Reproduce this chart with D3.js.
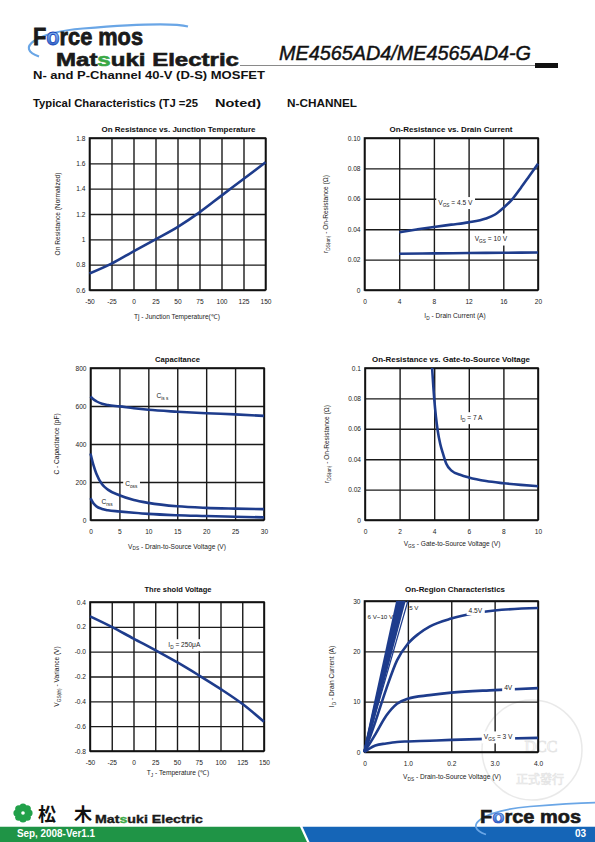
<!DOCTYPE html>
<html><head><meta charset="utf-8">
<script src="https://cdn.jsdelivr.net/npm/d3@7"></script>
<style>html,body{margin:0;padding:0;background:#fff}svg{display:block}</style>
</head><body>
<script>
// ---------- DATA ----------
// Chart 1: On Resistance vs Junction Temperature
const tjTemp = [-50,-25,0,25,50,75,100,125,150];
const rdsNormalized = [0.73,0.808,0.905,1.0,1.097,1.213,1.345,1.476,1.608];
const tempTicks = [-50,-25,0,25,50,75,100,125,150];
const tempTickLabels = ["-50","-25","0","25","50","75","100","125","150"];
const normTicks = [0.6,0.8,1.0,1.2,1.4,1.6,1.8];
const normTickLabels = ["0.6","0.8","1","1.2","1.4","1.6","1.8"];

// Chart 2: On-Resistance vs Drain Current
const idVgs45 = [4,6,8,10,12,14,15,16,17,18,19,20];
const rdsVgs45 = [0.038,0.0398,0.0415,0.043,0.0445,0.047,0.0495,0.054,0.0595,0.067,0.075,0.083];
const idVgs10 = [4,8,12,16,20];
const rdsVgs10 = [0.0238,0.0241,0.0243,0.0245,0.0247];
const idTicks = [0,4,8,12,16,20];
const idTickLabels = ["0","4","8","12","16","20"];
const rdsTicks = [0,0.02,0.04,0.06,0.08,0.10];
const rdsTickLabels = ["0","0.02","0.04","0.06","0.08","0.10"];

// Chart 3: Capacitance
const vdsCap = [0,0.5,1,2,3,5,7.5,10,15,20,25,30];
const ciss = [650,635,625,612,605,598,588,580,570,562,556,548];
const coss = [350,290,245,188,160,130,105,90,72,64,60,57];
const crss = [115,88,72,58,51,45,38,32,25,21,17,14];
const vdsCapTicks = [0,5,10,15,20,25,30];
const vdsCapTickLabels = ["0","5","10","15","20","25","30"];
const capTicks = [0,200,400,600,800];
const capTickLabels = ["0","200","400","600","800"];

// Chart 4: On-Resistance vs Gate-to-Source Voltage
const vgsSweep = [3.88,4.0,4.1,4.2,4.35,4.5,4.7,5.0,5.5,6,7,8,9,10];
const rdsVsVgs = [0.1,0.080,0.068,0.059,0.050,0.044,0.037,0.0325,0.0298,0.028,0.0256,0.0242,0.0231,0.0222];
const vgsTicks = [0,2,4,6,8,10];
const vgsTickLabels = ["0","2","4","6","8","10"];
const rds2Ticks = [0,0.02,0.04,0.06,0.08,0.1];
const rds2TickLabels = ["0","0.02","0.04","0.06","0.08","0.1"];

// Chart 5: Threshold Voltage
const thTemp = [-50,-25,0,25,50,75,100,125,150];
const vthVariance = [0.285,0.20,0.105,0.013,-0.085,-0.19,-0.30,-0.42,-0.565];
const vthTicks = [0.4,0.2,0,-0.2,-0.4,-0.6,-0.8];
const vthTickLabels = ["0.4","0.2","-0.0","-0.2","-0.4","-0.6","-0.8"];

// Chart 6: On-Region Characteristics
const vds3 = [0,0.1,0.25,0.5,0.75,1.0,1.5,2,3,4];
const id3 = [0,0.6,1.3,1.7,2.0,2.1,2.25,2.4,2.65,2.8];
const vds4 = [0,0.25,0.5,0.75,1.0,1.5,2,3,4];
const id4 = [0,3.5,7.2,9.6,10.6,11.3,11.8,12.3,12.7];
const vds45 = [0,0.25,0.5,0.75,1.0,1.25,1.5,2,2.5,3,4];
const id45 = [0,6,12.5,18.2,21.5,23.5,24.9,26.5,27.5,28.1,28.6];
const vds5 = [0,1.0];
const id5 = [0,30];
const bandVgs = ["6 V","7 V","8 V","9 V","10 V"];
const bandVdsAt30A = [0.76,0.80,0.84,0.88,0.92];
const vdsOnTicks = [0,1,2,3,4];
const vdsOnTickLabels = ["0","1.0","0.2","3.0","4.0"];
const idOnTicks = [0,10,20,30];
const idOnTickLabels = ["0","10","20","30"];

// ---------- DRAWING ----------
const BLUE = "#1e3c8c";
const FONT = "Liberation Sans, Arial, sans-serif";
const svg = d3.select("body").append("svg").attr("width",595).attr("height",842);
svg.append("rect").attr("width",595).attr("height",842).attr("fill","#fff");

// watermark
const wm = svg.append("g").attr("opacity",0.55);
wm.append("circle").attr("cx",532).attr("cy",750).attr("r",50).attr("fill","none").attr("stroke","#d8d8d8").attr("stroke-width",1.5);
wm.append("text").attr("x",541).attr("y",751.5).attr("text-anchor","middle").attr("font-family","Liberation Serif, serif").attr("font-size",16).attr("fill","none").attr("stroke","#cfcfcf").attr("stroke-width",0.8).text("DCC");
wm.append("text").attr("x",540).attr("y",784).attr("text-anchor","middle").attr("font-family","Noto Sans CJK TC").attr("font-size",12).attr("fill","none").attr("stroke","#cfcfcf").attr("stroke-width",0.7).text("正式發行");

function rich(t, parts, fs){
  let shift = 0;
  parts.forEach(([s, sub]) => {
    const target = sub ? fs*0.3 : 0;
    const ts = t.append("tspan").text(s).attr("dy", target - shift);
    shift = target;
    if (sub) ts.attr("font-size", fs*0.72);
  });
}

function panel(c){
  const x = d3.scaleLinear().domain(c.xd).range([c.left,c.right]);
  const y = d3.scaleLinear().domain(c.yd).range([c.bottom,c.top]);
  const g = svg.append("g");
  const h = c.bottom - c.top, w = c.right - c.left;
  const gx = g.append("g").attr("transform",`translate(0,${c.bottom})`)
    .call(d3.axisBottom(x).tickValues(c.xt).tickSize(-h).tickPadding(9).tickFormat((d,i)=>c.xl[i]));
  const gy = g.append("g").attr("transform",`translate(${c.left},0)`)
    .call(d3.axisLeft(y).tickValues(c.yt).tickSize(-w).tickPadding(4).tickFormat((d,i)=>c.yl[i]));
  [gx,gy].forEach(a=>{
    a.attr("font-family",FONT).attr("font-size",6.6);
    a.select(".domain").remove();
    a.selectAll("line").attr("stroke","#1a1a1a").attr("stroke-width",1.4);
    a.selectAll("text").attr("fill","#222");
  });
  g.append("rect").attr("x",c.left).attr("y",c.top).attr("width",w).attr("height",h)
    .attr("fill","none").attr("stroke","#111").attr("stroke-width",1.6);
  g.append("text").attr("x",c.titleX).attr("y",c.titleY).attr("text-anchor","middle")
    .attr("font-family",FONT).attr("font-weight","bold").attr("font-size",7.6).attr("fill","#111")
    .attr("textLength",c.titleW).attr("lengthAdjust","spacingAndGlyphs").text(c.title);
  const xl = g.append("text").attr("x",c.xlX).attr("y",c.xlY).attr("text-anchor","middle")
    .attr("font-family",FONT).attr("font-size",6.6).attr("fill","#222");
  rich(xl, c.xlabel, 6.6);
  const yl = g.append("text").attr("transform",`translate(${c.ylX},${(c.top+c.bottom)/2}) rotate(-90)`)
    .attr("text-anchor","middle").attr("font-family",FONT).attr("font-size",6.6).attr("fill","#222");
  rich(yl, c.ylabel, 6.6);
  return {x,y,g};
}

function series(p, xs, ys, width, curve){
  const line = d3.line().x(d=>p.x(d)).y((d,i)=>p.y(ys[i])).curve(curve || d3.curveMonotoneX);
  p.g.append("path").datum(xs).attr("d",line).attr("fill","none").attr("stroke",BLUE)
    .attr("stroke-width",width || 2.6).attr("stroke-linejoin","round");
}

function label(p, xv, yv, parts, box, anchor, fs){
  fs = fs || 6.6;
  const t = p.g.append("text").attr("x",p.x(xv)).attr("y",p.y(yv)).attr("dy","0.35em")
    .attr("text-anchor",anchor||"start").attr("font-family",FONT).attr("font-size",fs).attr("fill","#222");
  rich(t, parts, fs);
  if (box){
    const b = t.node().getBBox();
    p.g.insert("rect", () => t.node()).attr("x",b.x-2).attr("y",b.y-1.5).attr("width",b.width+4).attr("height",b.height+3).attr("fill","#fff");
  }
  return t;
}

// Chart 1
const p1 = panel({left:89.5,right:265.5,top:138,bottom:290,xd:[-50,150],yd:[0.6,1.8],
  xt:tempTicks,xl:tempTickLabels,yt:normTicks,yl:normTickLabels,
  title:"On Resistance vs. Junction Temperature",titleX:178.5,titleY:132,titleW:154,
  xlabel:[["Tj - Junction  Temperature(℃)",0]],xlX:177,xlY:318.5,
  ylabel:[["On Resistance (Normalized)",0]],ylX:60});
series(p1, tjTemp, rdsNormalized);

// Chart 2
const p2 = panel({left:364.5,right:538,top:138,bottom:290,xd:[0,20],yd:[0,0.10],
  xt:idTicks,xl:idTickLabels,yt:rdsTicks,yl:rdsTickLabels,
  title:"On-Resistance vs. Drain Current",titleX:451,titleY:132,titleW:123,
  xlabel:[["I",0],["D",1],[" - Drain Current (A)",0]],xlX:455,xlY:318,
  ylabel:[["r",0],["DS(on)",1],[" - On-Resistance (Ω)",0]],ylX:328});
series(p2, idVgs45, rdsVgs45);
series(p2, idVgs10, rdsVgs10);
label(p2, 8.5, 0.0562, [["V",0],["GS",1],[" = 4.5 V",0]], true);
label(p2, 12.7, 0.0322, [["V",0],["GS",1],[" = 10 V",0]], true);

// Chart 3
const p3 = panel({left:90.5,right:264,top:368,bottom:520,xd:[0,30],yd:[0,800],
  xt:vdsCapTicks,xl:vdsCapTickLabels,yt:capTicks,yl:capTickLabels,
  title:"Capacitance",titleX:177.5,titleY:361.5,titleW:45,
  xlabel:[["V",0],["DS",1],[" - Drain-to-Source Voltage (V)",0]],xlX:177,xlY:548.5,
  ylabel:[["C - Capacitance (pF)",0]],ylX:59});
series(p3, vdsCap, ciss);
series(p3, vdsCap, coss);
series(p3, vdsCap, crss);
label(p3, 11.4, 640, [["C",0],["is s",1]], false);
label(p3, 6.0, 178, [["C",0],["oss",1]], true);
label(p3, 1.9, 82, [["C",0],["rss",1]], false);

// Chart 4
const p4 = panel({left:365,right:538,top:368,bottom:520,xd:[0,10],yd:[0,0.1],
  xt:vgsTicks,xl:vgsTickLabels,yt:rds2Ticks,yl:rds2TickLabels,
  title:"On-Resistance vs. Gate-to-Source Voltage",titleX:451,titleY:362,titleW:158,
  xlabel:[["V",0],["GS",1],[" - Gate-to-Source Voltage (V)",0]],xlX:452,xlY:546,
  ylabel:[["r",0],["DS(on)",1],[" - On-Resistance (Ω)",0]],ylX:329});
series(p4, vgsSweep, rdsVsVgs);
label(p4, 5.5, 0.066, [["I",0],["D",1],[" = 7 A",0]], true);

// Chart 5
const p5 = panel({left:90,right:264,top:602,bottom:751,xd:[-50,150],yd:[-0.8,0.4],
  xt:tempTicks,xl:tempTickLabels,yt:vthTicks,yl:vthTickLabels,
  title:"Thre shold Voltage",titleX:178,titleY:592,titleW:67,
  xlabel:[["T",0],["J",1],[" - Temperature (℃)",0]],xlX:178,xlY:775,
  ylabel:[["V",0],["GS(th)",1],[" - Variance (V)",0]],ylX:59});
series(p5, thTemp, vthVariance);
label(p5, 40, 0.04, [["I",0],["D",1],[" = 250μA",0]], true);

// Chart 6
const p6 = panel({left:364.5,right:538,top:601,bottom:752,xd:[0,4],yd:[0,30],
  xt:vdsOnTicks,xl:vdsOnTickLabels,yt:idOnTicks,yl:idOnTickLabels,
  title:"On-Region Characteristics",titleX:455,titleY:592,titleW:100,
  xlabel:[["V",0],["DS",1],[" - Drain-to-Source Voltage (V)",0]],xlX:452,xlY:779,
  ylabel:[["I",0],["D",1],[" - Drain Current (A)",0]],ylX:334});
series(p6, vds3, id3);
series(p6, vds4, id4);
series(p6, vds45, id45);
series(p6, vds5, id5, 1.2, d3.curveLinear);
bandVgs.forEach((v,i)=> series(p6, [0, bandVdsAt30A[i]], [0, 30], 2.6, d3.curveLinear));
label(p6, 0.66, 26.4, [["6 V~10 V",0]], false, "end", 6.2);
label(p6, 1.03, 28.3, [["5 V",0]], false, "start", 6.2);
label(p6, 2.4, 27.7, [["4.5V",0]], true);
label(p6, 3.22, 12.3, [["4V",0]], true);
label(p6, 2.75, 2.6, [["V",0],["GS",1],[" = 3 V",0]], true);

// ---------- HEADER ----------
const defs = svg.append("defs");
const rg = defs.append("radialGradient").attr("id","ball").attr("cx","35%").attr("cy","35%").attr("r","65%");
rg.append("stop").attr("offset","0%").attr("stop-color","#9fd0ff");
rg.append("stop").attr("offset","100%").attr("stop-color","#1746b8");

function forceMos(x, y, size, w){
  svg.append("path")
    .attr("d", `M ${x+6} ${y+12} C ${x-18} ${y+4}, ${x+2} ${y-12}, ${x+50} ${y-16} S ${x+140} ${y-22}, ${x+155} ${y-18}`)
    .attr("fill","none").attr("stroke","#6aa6e6").attr("stroke-width",size/11);
  const t = svg.append("text").attr("x",x).attr("y",y).attr("font-family",FONT)
    .attr("font-weight","bold").attr("font-size",size).attr("fill","#1a1a1a")
    .attr("stroke","#1a1a1a").attr("stroke-width",size/30)
    .attr("textLength",w).attr("lengthAdjust","spacingAndGlyphs");
  t.append("tspan").text("F");
  t.append("tspan").text("o").attr("fill","url(#ball)").attr("stroke","#1746b8");
  t.append("tspan").text("rce mos");
}
forceMos(33, 44.5, 24, 110);

const me = svg.append("text").attr("x",56).attr("y",66).attr("font-family",FONT)
  .attr("font-weight","bold").attr("font-size",18).attr("fill","#1a1a1a")
  .attr("stroke","#1a1a1a").attr("stroke-width",0.6)
  .attr("textLength",183).attr("lengthAdjust","spacingAndGlyphs");
me.append("tspan").text("Mat");
me.append("tspan").text("s").attr("fill","#3aa845").attr("stroke","#3aa845");
me.append("tspan").text("uki Electric");

svg.append("text").attr("x",279).attr("y",60).attr("font-family",FONT).attr("font-style","italic")
  .attr("font-size",20).attr("fill","#111").attr("stroke","#111").attr("stroke-width",0.45)
  .attr("textLength",252).attr("lengthAdjust","spacingAndGlyphs")
  .text("ME4565AD4/ME4565AD4-G");
svg.append("line").attr("x1",240).attr("x2",536).attr("y1",65.5).attr("y2",65.5).attr("stroke","#8a8a8a").attr("stroke-width",1);
svg.append("rect").attr("x",535).attr("y",63).attr("width",23).attr("height",5).attr("fill","#111");

function headText(x, y, w, s){
  svg.append("text").attr("x",x).attr("y",y).attr("font-family",FONT).attr("font-weight","bold")
    .attr("font-size",11).attr("fill","#111").attr("textLength",w).attr("lengthAdjust","spacingAndGlyphs").text(s);
}
headText(33, 78.5, 232, "N- and P-Channel 40-V (D-S) MOSFET");
headText(33, 107, 165, "Typical Characteristics (TJ =25");
headText(215, 107, 46, "Noted)");
headText(287, 107, 70, "N-CHANNEL");

// ---------- FOOTER ----------
svg.append("path").attr("d","M0 826.7 L300 826.7 L307 842 L0 842 Z").attr("fill","#1f9446");
svg.append("path").attr("d","M302.5 826.7 L595 826.7 L595 842 L309.5 842 Z").attr("fill","#1565b7");
svg.append("text").attr("x",17).attr("y",836.5).attr("font-family",FONT).attr("font-weight","bold")
  .attr("font-size",10).attr("fill","#fff").attr("textLength",78).attr("lengthAdjust","spacingAndGlyphs").text("Sep, 2008-Ver1.1");
svg.append("text").attr("x",586).attr("y",836.5).attr("text-anchor","end").attr("font-family",FONT).attr("font-weight","bold")
  .attr("font-size",10).attr("fill","#fff").text("03");
// Matsuki flower mark
const fl = svg.append("g").attr("transform","translate(23,813)");
d3.range(8).forEach(i=>{
  const a = i*Math.PI/4;
  fl.append("circle").attr("cx",Math.cos(a)*6).attr("cy",Math.sin(a)*6).attr("r",3.6).attr("fill","#22a14a");
});
fl.append("circle").attr("r",4.5).attr("fill","#22a14a");
fl.append("circle").attr("r",1.8).attr("fill","#fff");
svg.append("text").attr("x",38).attr("y",820.5).attr("font-family","Noto Sans CJK JP, sans-serif").attr("font-weight","bold")
  .attr("font-size",18).attr("fill","#111").attr("textLength",54).attr("lengthAdjust","spacing").text("松木");
const me2 = svg.append("text").attr("x",95).attr("y",823).attr("font-family",FONT).attr("font-weight","bold")
  .attr("font-size",10.5).attr("fill","#1a1a1a").attr("stroke","#1a1a1a").attr("stroke-width",0.35)
  .attr("textLength",108).attr("lengthAdjust","spacingAndGlyphs");
me2.append("tspan").text("Mat");
me2.append("tspan").text("s").attr("fill","#3aa845").attr("stroke","#3aa845");
me2.append("tspan").text("uki Electric");
forceMos(480, 822.5, 19, 101);
</script>
</body></html>
